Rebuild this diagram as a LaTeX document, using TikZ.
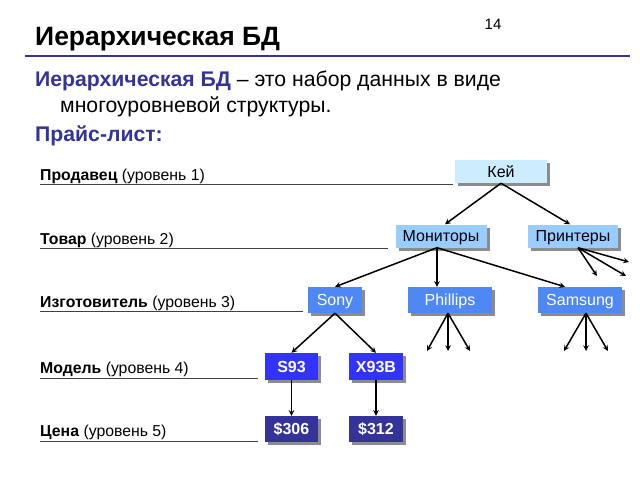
\documentclass[tikz,border=0pt]{standalone}
\usepackage{fontspec}
\setmainfont{Liberation Sans}
\usetikzlibrary{positioning, arrows, shadows}
\definecolor{slideblue}{HTML}{333399}
\definecolor{keyfill}{HTML}{CCECFF}
\definecolor{goodsfill}{HTML}{99CCFF}
\definecolor{makerfill}{HTML}{4D88F5}
\definecolor{modelfill}{HTML}{3333FF}
\definecolor{pricefill}{HTML}{333399}
\tikzset{
  >=stealth,
  every picture/.style={x=1pt, y=-1pt},
  box/.style={inner sep=0pt, minimum height=23pt, text height=11.5pt, text depth=0pt,
    font=\fontsize{16}{18}\selectfont,
    drop shadow={shadow xshift=3pt, shadow yshift=-3pt, fill=gray!90, opacity=1}},
  boldbox/.style={box, text=white, font=\fontsize{16}{18}\selectfont\bfseries},
  level/.style={anchor=base west, inner sep=0pt, font=\fontsize{15.8}{18}\selectfont},
  rule/.style={line width=0.9pt, black!75},
  link/.style={->, line width=1.5pt},
}

\begin{document}
\begin{tikzpicture}
  \useasboundingbox (0,0) rectangle (640,480);
  % header
  \node[anchor=base west, inner sep=0pt, font=\fontsize{26.5}{32}\selectfont\bfseries] (title) at (35,45) {Иерархическая БД};
  \node[font=\fontsize{15}{18}\selectfont] (page) at (493,24) {14};
  \draw[slideblue, line width=2.5pt] (25,56) -- (630,56);
  \node[anchor=base west, inner sep=0pt, font=\fontsize{21.2}{24}\selectfont] (def1) at (35,86)
    {\textcolor{slideblue}{\textbf{Иерархическая БД}} – это набор данных в виде};
  \node[anchor=base west, inner sep=0pt, font=\fontsize{21.2}{24}\selectfont] (def2) at (60,112) {многоуровневой структуры.};
  \node[anchor=base west, inner sep=0pt, font=\fontsize{21.2}{24}\selectfont\bfseries, text=slideblue] (price) at (35,141) {Прайс-лист:};

  % tree
  \node[box, fill=keyfill, minimum width=92pt]   (kei)  at (501,171.5) {Кей};
  \node[box, fill=goodsfill, minimum width=91pt] (mon)  at (441,236)   {Мониторы};
  \node[box, fill=goodsfill, minimum width=90pt] (prn)  at (573,236)   {Принтеры};
  \node[box, fill=makerfill, text=white, minimum width=54pt, minimum height=26pt] (sony) at (335,300) {Sony};
  \node[box, fill=makerfill, text=white, minimum width=84pt, minimum height=26pt] (phil) at (450,300) {Phillips};
  \node[box, fill=makerfill, text=white, minimum width=84pt, minimum height=26pt] (sams) at (580,300) {Samsung};
  \node[boldbox, fill=modelfill, minimum width=53pt, minimum height=27pt] (s93)  at (291.5,366.5) {S93};
  \node[boldbox, fill=modelfill, minimum width=54pt, minimum height=27pt] (x93)  at (376,366.5)   {X93B};
  \node[boldbox, fill=pricefill, minimum width=53pt, minimum height=26pt] (p306) at (291.5,429)   {\$306};
  \node[boldbox, fill=pricefill, minimum width=54pt, minimum height=26pt] (p312) at (376,429)     {\$312};

  % free ends
  \coordinate (prnA) at (597,276);
  \coordinate (prnB) at (626,276);
  \coordinate (prnC) at (629,262);
  \coordinate (philA) at (427,351);
  \coordinate (philB) at (448,351);
  \coordinate (philC) at (470,351);
  \coordinate (samsA) at (564,351);
  \coordinate (samsB) at (586,351);
  \coordinate (samsC) at (608,351);

  \draw[link] (kei.south) -- ([xshift=4pt]mon.north);
  \draw[link] (kei.south) -- ([xshift=-3pt]prn.north);
  \draw[link] ([xshift=-4pt]mon.south) -- (sony.north);
  \draw[link] ([xshift=-4pt]mon.south) -- ([xshift=-13pt]phil.north);
  \draw[link] ([xshift=-4pt]mon.south) -- ([xshift=-15pt]sams.north);
  \foreach \e in {prnA, prnB, prnC}
    \draw[link] ([xshift=5pt]prn.south) -- (\e);
  \foreach \e in {philA, philB, philC}
    \draw[link] ([xshift=-2pt]phil.south) -- (\e);
  \foreach \e in {samsA, samsB, samsC}
    \draw[link] ([xshift=6pt]sams.south) -- (\e);
  \draw[link] (sony.south) -- (s93.north);
  \draw[link] (sony.south) -- (x93.north);
  \draw[link] (s93.south) -- (p306.north);
  \draw[link] (x93.south) -- (p312.north);

  % levels
  \node[level] (lv1) at (40,180) {\textbf{Продавец} (уровень 1)};
  \node[level] (lv2) at (40,244) {\textbf{Товар} (уровень 2)};
  \node[level] (lv3) at (40,307) {\textbf{Изготовитель} (уровень 3)};
  \node[level] (lv4) at (40,373) {\textbf{Модель} (уровень 4)};
  \node[level] (lv5) at (40,436) {\textbf{Цена} (уровень 5)};
  \draw[rule] (40,184) -- (453,184);
  \draw[rule] (40,248) -- (388,248);
  \draw[rule] (40,311) -- (303,311);
  \draw[rule] (40,378) -- (258,378);
  \draw[rule] (40,441) -- (258,441);
\end{tikzpicture}
\end{document}
